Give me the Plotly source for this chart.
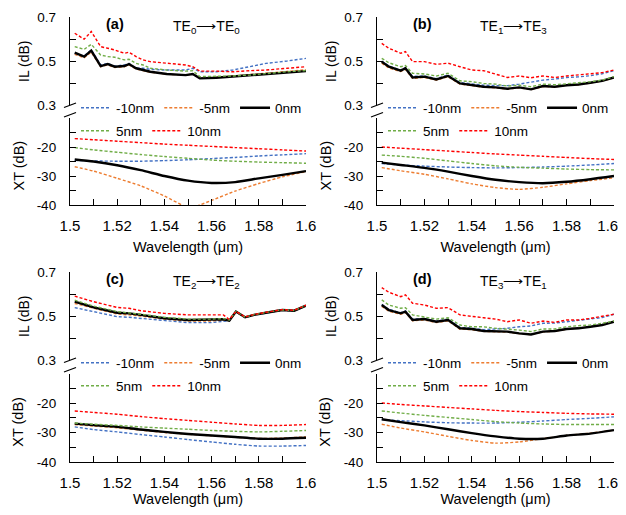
import plotly.graph_objects as go

# ---------------- data ----------------
series_names = ["-10nm", "-5nm", "0nm", "5nm", "10nm"]
panel_labels = ["(a)", "(b)", "(c)", "(d)"]
panel_modes = ["TE<sub>0</sub>\u27f6TE<sub>0</sub>", "TE<sub>1</sub>\u27f6TE<sub>3</sub>",
               "TE<sub>2</sub>\u27f6TE<sub>2</sub>", "TE<sub>3</sub>\u27f6TE<sub>1</sub>"]
x_tickvals = [1.5, 1.52, 1.54, 1.56, 1.58, 1.6]
x_ticktext = ["1.5", "1.52", "1.54", "1.56", "1.58", "1.6"]
il_tickvals = [0.3, 0.5, 0.7]
il_ticktext = ["0.3", "0.5", "0.7"]
xt_tickvals = [-40, -30, -20]
xt_ticktext = ["-40", "-30", "-20"]

# IL (dB) — panel (a)
wl_il_a = [1.502, 1.506, 1.509, 1.513, 1.516, 1.519, 1.523, 1.525, 1.528, 1.531, 1.534,
           1.541, 1.549, 1.552, 1.555, 1.562, 1.569, 1.576, 1.583, 1.592, 1.600]
il_a_m10 = [0.532, 0.523, 0.550, 0.482, 0.489, 0.477, 0.482, 0.489, 0.467, 0.467, 0.462,
            0.459, 0.459, 0.467, 0.451, 0.451, 0.459, 0.474, 0.489, 0.500, 0.512]
il_a_m5 = [0.530, 0.515, 0.540, 0.474, 0.482, 0.470, 0.474, 0.482, 0.464, 0.457, 0.449,
           0.440, 0.436, 0.441, 0.422, 0.425, 0.431, 0.438, 0.444, 0.451, 0.460]
il_a_0 = [0.538, 0.520, 0.547, 0.477, 0.486, 0.474, 0.477, 0.486, 0.467, 0.459, 0.451,
          0.441, 0.436, 0.441, 0.421, 0.424, 0.429, 0.436, 0.441, 0.448, 0.454]
il_a_p5 = [0.565, 0.553, 0.576, 0.527, 0.520, 0.517, 0.505, 0.508, 0.489, 0.482, 0.467,
           0.459, 0.454, 0.456, 0.429, 0.429, 0.432, 0.436, 0.444, 0.451, 0.457]
il_a_p10 = [0.626, 0.599, 0.634, 0.565, 0.558, 0.550, 0.535, 0.540, 0.520, 0.505, 0.497,
            0.489, 0.482, 0.474, 0.454, 0.454, 0.451, 0.456, 0.459, 0.467, 0.474]

# IL (dB) — panel (b)
wl_il_b = [1.502, 1.505, 1.510, 1.512, 1.515, 1.520, 1.525, 1.530, 1.535, 1.540, 1.545,
           1.550, 1.555, 1.560, 1.565, 1.570, 1.575, 1.580, 1.585, 1.590, 1.595, 1.600]
il_b_m10 = [0.500, 0.477, 0.459, 0.470, 0.430, 0.432, 0.420, 0.436, 0.402, 0.395, 0.390,
            0.388, 0.388, 0.395, 0.405, 0.413, 0.418, 0.425, 0.428, 0.433, 0.442, 0.456]
il_b_m5 = [0.490, 0.468, 0.452, 0.462, 0.421, 0.425, 0.413, 0.428, 0.395, 0.388, 0.381,
           0.378, 0.372, 0.378, 0.370, 0.384, 0.382, 0.389, 0.392, 0.400, 0.409, 0.424]
il_b_0 = [0.497, 0.474, 0.456, 0.467, 0.425, 0.429, 0.416, 0.432, 0.398, 0.390, 0.383,
          0.380, 0.374, 0.380, 0.371, 0.386, 0.383, 0.390, 0.393, 0.401, 0.410, 0.425]
il_b_p5 = [0.512, 0.492, 0.474, 0.479, 0.444, 0.441, 0.432, 0.444, 0.410, 0.406, 0.398,
           0.395, 0.386, 0.390, 0.383, 0.395, 0.392, 0.398, 0.401, 0.406, 0.413, 0.429]
il_b_p10 = [0.580, 0.558, 0.535, 0.543, 0.497, 0.497, 0.485, 0.490, 0.474, 0.459, 0.456,
            0.440, 0.425, 0.432, 0.424, 0.432, 0.425, 0.432, 0.436, 0.440, 0.447, 0.459]

# IL (dB) — panel (c)
wl_il_c = [1.502, 1.510, 1.520, 1.525, 1.530, 1.540, 1.550, 1.560, 1.565, 1.5675, 1.5703,
           1.5742, 1.578, 1.583, 1.590, 1.595, 1.600]
il_c_m10 = [0.538, 0.520, 0.497, 0.494, 0.489, 0.477, 0.470, 0.470, 0.474, 0.479, 0.518,
            0.493, 0.504, 0.514, 0.526, 0.523, 0.546]
il_c_m5 = [0.557, 0.535, 0.509, 0.505, 0.500, 0.486, 0.477, 0.477, 0.482, 0.479, 0.519,
           0.494, 0.505, 0.515, 0.527, 0.524, 0.547]
il_c_0 = [0.565, 0.539, 0.515, 0.512, 0.505, 0.490, 0.482, 0.482, 0.485, 0.479, 0.520,
          0.494, 0.505, 0.515, 0.527, 0.524, 0.547]
il_c_p5 = [0.572, 0.545, 0.520, 0.515, 0.508, 0.494, 0.486, 0.486, 0.488, 0.482, 0.520,
           0.495, 0.506, 0.516, 0.528, 0.525, 0.548]
il_c_p10 = [0.590, 0.565, 0.539, 0.535, 0.524, 0.512, 0.505, 0.503, 0.505, 0.484, 0.521,
            0.496, 0.507, 0.517, 0.529, 0.526, 0.549]

# IL (dB) — panel (d)
wl_il_d = [1.502, 1.505, 1.510, 1.512, 1.515, 1.520, 1.525, 1.530, 1.535, 1.540, 1.545,
           1.550, 1.555, 1.560, 1.565, 1.570, 1.575, 1.580, 1.585, 1.590, 1.595, 1.600]
il_d_m10 = [0.553, 0.530, 0.515, 0.523, 0.486, 0.489, 0.477, 0.486, 0.448, 0.445, 0.438,
            0.440, 0.444, 0.451, 0.455, 0.467, 0.468, 0.474, 0.480, 0.484, 0.493, 0.508]
il_d_m5 = [0.544, 0.522, 0.508, 0.516, 0.478, 0.482, 0.470, 0.478, 0.440, 0.438, 0.430,
           0.430, 0.427, 0.420, 0.415, 0.428, 0.431, 0.440, 0.444, 0.451, 0.459, 0.475]
il_d_0 = [0.550, 0.527, 0.512, 0.520, 0.482, 0.486, 0.474, 0.482, 0.444, 0.441, 0.432,
          0.432, 0.429, 0.421, 0.416, 0.429, 0.432, 0.441, 0.444, 0.451, 0.459, 0.474]
il_d_p5 = [0.573, 0.550, 0.535, 0.538, 0.505, 0.497, 0.486, 0.492, 0.459, 0.451, 0.451,
           0.444, 0.441, 0.436, 0.429, 0.441, 0.441, 0.451, 0.456, 0.459, 0.467, 0.477]
il_d_p10 = [0.629, 0.608, 0.588, 0.596, 0.558, 0.550, 0.535, 0.538, 0.505, 0.497, 0.492,
            0.486, 0.474, 0.482, 0.467, 0.477, 0.471, 0.482, 0.482, 0.489, 0.497, 0.508]

# XT (dB) — shared wavelength grid
wl_xt = [1.502, 1.51, 1.52, 1.53, 1.54, 1.55, 1.56, 1.57, 1.58, 1.59, 1.60]
wl_xt_a_m5 = [1.502, 1.51, 1.52, 1.53, 1.54, 1.548, 1.5515, 1.555, 1.56, 1.57, 1.58, 1.59, 1.60]

xt_a_m10 = [-24.6, -24.8, -24.9, -24.9, -24.7, -24.4, -24.0, -23.6, -23.1, -22.7, -22.3]
xt_a_m5 = [-26.8, -28.3, -30.8, -33.4, -36.9, -40.2, -41.0, -40.0, -38.4, -35.2, -32.6, -30.3, -28.5]
xt_a_0 = [-24.3, -25.0, -26.3, -28.0, -30.0, -31.6, -32.4, -32.1, -30.8, -29.6, -28.3]
xt_a_p5 = [-20.2, -21.0, -21.8, -22.6, -23.3, -23.9, -24.5, -24.9, -25.2, -25.4, -25.6]
xt_a_p10 = [-17.1, -17.5, -18.0, -18.5, -19.0, -19.4, -19.8, -20.2, -20.6, -21.0, -21.4]

xt_b_m10 = [-25.7, -26.2, -26.6, -26.9, -27.1, -27.2, -27.1, -26.9, -26.6, -26.2, -25.7]
xt_b_m5 = [-27.1, -28.2, -29.4, -31.0, -32.7, -34.0, -34.6, -33.9, -32.7, -31.6, -30.6]
xt_b_0 = [-25.4, -26.2, -27.2, -28.5, -30.0, -31.3, -32.1, -32.5, -32.0, -31.1, -30.0]
xt_b_p5 = [-22.8, -23.2, -23.9, -24.8, -25.7, -26.5, -27.0, -27.3, -27.6, -27.8, -27.9]
xt_b_p10 = [-20.0, -20.4, -20.9, -21.4, -21.9, -22.4, -22.8, -23.2, -23.6, -24.0, -24.3]

xt_c_m10 = [-28.1, -29.0, -29.8, -30.7, -31.5, -32.4, -33.2, -34.0, -34.6, -34.6, -34.4]
xt_c_m5 = [-27.3, -27.8, -28.4, -29.2, -30.0, -30.6, -31.1, -31.6, -32.0, -31.9, -31.5]
xt_c_0 = [-27.0, -27.5, -28.1, -29.0, -29.8, -30.5, -31.0, -31.5, -32.1, -32.1, -31.8]
xt_c_p5 = [-26.8, -27.2, -27.6, -28.1, -28.5, -28.9, -29.3, -29.6, -29.8, -29.6, -29.3]
xt_c_p10 = [-22.7, -23.2, -23.8, -24.6, -25.3, -25.9, -26.5, -27.1, -27.6, -27.6, -27.3]

xt_d_m10 = [-25.6, -26.0, -26.4, -26.7, -26.8, -26.8, -26.5, -26.1, -25.6, -25.2, -24.7]
xt_d_m5 = [-27.2, -28.5, -29.8, -31.3, -32.7, -33.6, -33.2, -32.1, -31.0, -30.2, -29.2]
xt_d_0 = [-25.5, -26.5, -27.6, -28.9, -30.2, -31.3, -32.1, -32.1, -31.0, -30.4, -29.2]
xt_d_p5 = [-22.7, -23.4, -24.2, -24.9, -25.6, -26.3, -26.8, -27.1, -27.3, -27.3, -27.3]
xt_d_p10 = [-20.0, -20.5, -21.0, -21.5, -22.0, -22.5, -22.9, -23.2, -23.5, -23.7, -23.8]

# ---------------- styling ----------------
PAGE_OFF = 8            # default body margin of the html page
W, H = 626 - 2 * PAGE_OFF, 515 - 2 * PAGE_OFF
FONT = "Liberation Sans, Arial, sans-serif"
colors = ["#4472C4", "#ED7D31", "#000000", "#70AD47", "#FF0000"]


def px(xp):
    return (xp - PAGE_OFF) / W


def py(yp):
    return 1 - (yp - PAGE_OFF) / H


il_wl = [wl_il_a, wl_il_b, wl_il_c, wl_il_d]
il_vals = [[il_a_m10, il_a_m5, il_a_0, il_a_p5, il_a_p10],
           [il_b_m10, il_b_m5, il_b_0, il_b_p5, il_b_p10],
           [il_c_m10, il_c_m5, il_c_0, il_c_p5, il_c_p10],
           [il_d_m10, il_d_m5, il_d_0, il_d_p5, il_d_p10]]
xt_wl = [[wl_xt, wl_xt_a_m5, wl_xt, wl_xt, wl_xt]] + [[wl_xt] * 5] * 3
xt_vals = [[xt_a_m10, xt_a_m5, xt_a_0, xt_a_p5, xt_a_p10],
           [xt_b_m10, xt_b_m5, xt_b_0, xt_b_p5, xt_b_p10],
           [xt_c_m10, xt_c_m5, xt_c_0, xt_c_p5, xt_c_p10],
           [xt_d_m10, xt_d_m5, xt_d_0, xt_d_p5, xt_d_p10]]

# pixel geometry (screen pixels) of each panel: x0, x1, IL top/bottom, XT top/bottom
geo = [
    dict(x0=70, x1=306, il=(17, 105), xt=(118, 205), right=False),
    dict(x0=377, x1=614, il=(17, 105), xt=(118, 205), right=True),
    dict(x0=70, x1=306, il=(272, 360), xt=(373.5, 462), right=False),
    dict(x0=377, x1=614, il=(272, 360), xt=(373.5, 462), right=True),
]

fig = go.Figure()
layout = dict(
    width=W, height=H, margin=dict(l=0, r=0, t=0, b=0, autoexpand=False),
    paper_bgcolor="white", plot_bgcolor="white",
    font=dict(family=FONT, color="#000", size=14),
    showlegend=True,
)
annotations = []
shapes = []
tick_common = dict(ticks="inside", ticklen=6, tickwidth=1.2, tickcolor="#000")

for p in range(4):
    g = geo[p]
    kil = 2 * p + 1
    kxt = 2 * p + 2
    sfx_il = "" if kil == 1 else str(kil)
    sfx_xt = str(kxt)
    leg1 = "legend" if p == 0 else "legend%d" % (2 * p + 1)
    leg2 = "legend%d" % (2 * p + 2)

    for s in range(5):
        is_solid = s == 2
        line = dict(color=colors[s], width=2.4) if is_solid else dict(color=colors[s], width=1.4, dash="3px,2px")
        fig.add_trace(go.Scatter(
            x=il_wl[p], y=il_vals[p][s], mode="lines", name=series_names[s], line=line,
            xaxis="x" + sfx_il, yaxis="y" + sfx_il,
            legend=leg1 if s < 3 else leg2, showlegend=True, hoverinfo="skip"))
    for s in range(5):
        is_solid = s == 2
        line = dict(color=colors[s], width=2.4, shape="spline", smoothing=0.6) if is_solid else \
            dict(color=colors[s], width=1.4, dash="3px,2px", shape="spline", smoothing=0.6)
        fig.add_trace(go.Scatter(
            x=xt_wl[p][s], y=xt_vals[p][s], mode="lines", name=series_names[s], line=line,
            xaxis="x" + sfx_xt, yaxis="y" + sfx_xt, showlegend=False, hoverinfo="skip"))

    xdom = [px(g["x0"]), px(g["x1"])]
    # right-hand panels: last label nudged left so it stays inside the page, as in the original
    ttext = list(x_ticktext)
    if g["right"]:
        ttext[-1] = ttext[-1] + "\u00a0\u00a0\u00a0"
    # IL axes
    layout["xaxis" + sfx_il] = dict(domain=xdom, range=[1.5, 1.6], visible=False,
                                    anchor="y" + sfx_il, fixedrange=True)
    layout["yaxis" + sfx_il] = dict(
        domain=[py(g["il"][1]), py(g["il"][0])], range=[0.3, 0.7], anchor="x" + sfx_il,
        showline=True, linecolor="#000", linewidth=1.3, showgrid=False, zeroline=False,
        tickmode="array", tickvals=il_tickvals, ticktext=il_ticktext, **tick_common,
        minor=dict(tickvals=[0.4, 0.6], **tick_common),
        tickfont=dict(size=13.5, family=FONT), ticklabelstandoff=10, automargin=False, fixedrange=True)
    # XT axes
    layout["xaxis" + sfx_xt] = dict(
        domain=xdom, range=[1.5, 1.6], anchor="y" + sfx_xt,
        showline=True, linecolor="#000", linewidth=1.3, showgrid=False, zeroline=False,
        tickmode="array", tickvals=x_tickvals, ticktext=ttext, **tick_common,
        minor=dict(tickvals=[1.51, 1.53, 1.55, 1.57, 1.59], **tick_common),
        tickfont=dict(size=15, family=FONT), ticklabelstandoff=7, ticklabeloverflow="allow",
        title=dict(text="Wavelength (\u03bcm)", font=dict(size=14.5, family=FONT), standoff=8),
        automargin=False, fixedrange=True)
    layout["yaxis" + sfx_xt] = dict(
        domain=[py(g["xt"][1]), py(g["xt"][0])], range=[-40, -10], anchor="x" + sfx_xt,
        showline=True, linecolor="#000", linewidth=1.3, showgrid=False, zeroline=False,
        tickmode="array", tickvals=xt_tickvals, ticktext=xt_ticktext, **tick_common,
        minor=dict(tickvals=[-35, -25, -15], **tick_common),
        tickfont=dict(size=13.5, family=FONT), ticklabelstandoff=10, automargin=False, fixedrange=True)

    # legends (two rows)
    row1_y = g["il"][1] + 3
    row2_y = row1_y + 23
    lx = g["x0"] + 6
    for leg, yy in ((leg1, row1_y), (leg2, row2_y)):
        layout[leg] = dict(orientation="h", x=px(lx), y=py(yy), xanchor="left", yanchor="middle",
                           bgcolor="rgba(0,0,0,0)", borderwidth=0, itemwidth=30,
                           font=dict(size=13.5, family=FONT), itemclick=False, itemdoubleclick=False,
                           traceorder="normal", tracegroupgap=0)

    # panel labels and mode text
    top = g["il"][0]
    annotations.append(dict(text="<b>" + panel_labels[p] + "</b>", x=px(g["x0"] + 45), y=py(top + 7),
                            xref="paper", yref="paper", showarrow=False,
                            font=dict(size=14.5, family=FONT), xanchor="center", yanchor="middle"))
    annotations.append(dict(text=panel_modes[p], x=px(g["x0"] + 136), y=py(top + 10),
                            xref="paper", yref="paper", showarrow=False,
                            font=dict(size=14, family=FONT), xanchor="center", yanchor="middle"))
    # y axis titles
    annotations.append(dict(text="IL (dB)", x=px(g["x0"] - 46), y=py((g["il"][0] + g["il"][1]) / 2),
                            xref="paper", yref="paper", showarrow=False, textangle=-90,
                            font=dict(size=14, family=FONT), xanchor="center", yanchor="middle"))
    annotations.append(dict(text="XT (dB)", x=px(g["x0"] - 52), y=py((g["xt"][0] + g["xt"][1]) / 2 + 4),
                            xref="paper", yref="paper", showarrow=False, textangle=-90,
                            font=dict(size=14.5, family=FONT), xanchor="center", yanchor="middle"))
    # axis break marks
    yb = g["il"][1]
    for y0, y1 in ((yb + 2.5, yb - 2), (yb + 12, yb + 7.5)):
        shapes.append(dict(type="line", xref="paper", yref="paper",
                           x0=px(g["x0"] - 6), x1=px(g["x0"] + 6), y0=py(y0), y1=py(y1),
                           line=dict(color="#000", width=1.3)))

layout["annotations"] = annotations
layout["shapes"] = shapes
fig.update_layout(**layout)
fig.write_html("out.html")
